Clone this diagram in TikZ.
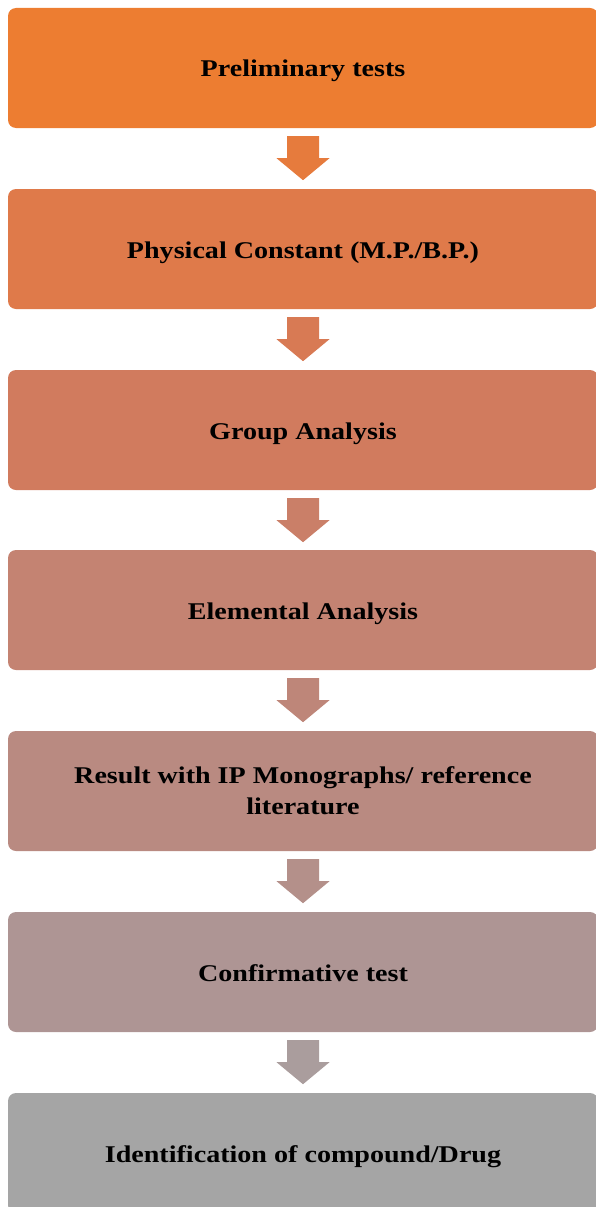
\documentclass[tikz,border=0pt]{standalone}
\usepackage{fontspec}
\setmainfont{Liberation Serif}[FakeStretch=1.17]
\usepackage{tikz}
\usetikzlibrary{calc}
\definecolor{stepA}{HTML}{ED7D31}
\definecolor{stepB}{HTML}{DF7A4A}
\definecolor{stepC}{HTML}{D17B5E}
\definecolor{stepD}{HTML}{C48372}
\definecolor{stepE}{HTML}{B98A81}
\definecolor{stepF}{HTML}{AE9594}
\definecolor{stepG}{HTML}{A5A5A5}

\tikzset{
	stepbox/.style={rounded corners=8pt, minimum width=590pt, minimum height=120pt,
		inner sep=0pt, align=center, text height=20pt, text depth=2pt,
		font=\fontsize{24}{31}\selectfont\bfseries}
}
% block arrow hanging below a box
\newcommand{\downarrowblock}[2]{%
	\fill[#2] ($(#1.south)+(-16,8)$) -- ($(#1.south)+(16,8)$) -- ($(#1.south)+(16,30)$)
		-- ($(#1.south)+(26.5,30)$) -- ($(#1.south)+(0,52)$) -- ($(#1.south)+(-26.5,30)$)
		-- ($(#1.south)+(-16,30)$) -- cycle;}

\begin{document}
\begin{tikzpicture}[x=1pt,y=-1pt]
	\useasboundingbox (0,0) rectangle (596,1207);
	\clip (0,0) rectangle (596,1207);
	\node[stepbox,fill=stepA] (prelim) at (303,68) {Preliminary tests};
	\node[stepbox,fill=stepB] (phys) at (303,249) {Physical Constant (M.P./B.P.)};
	\node[stepbox,fill=stepC] (group) at (303,430) {Group Analysis};
	\node[stepbox,fill=stepD] (elem) at (303,610) {Elemental Analysis};
	\node[stepbox,fill=stepE,text height=,text depth=] (result) at (303,791) {Result with IP Monographs/ reference\\literature};
	\node[stepbox,fill=stepF] (confirm) at (303,972) {Confirmative test};
	\node[stepbox,fill=stepG] (ident) at (303,1153) {Identification of compound/Drug};
	\downarrowblock{prelim}{stepA!50!stepB}
	\downarrowblock{phys}{stepB!50!stepC}
	\downarrowblock{group}{stepC!50!stepD}
	\downarrowblock{elem}{stepD!50!stepE}
	\downarrowblock{result}{stepE!50!stepF}
	\downarrowblock{confirm}{stepF!50!stepG}
\end{tikzpicture}
\end{document}
